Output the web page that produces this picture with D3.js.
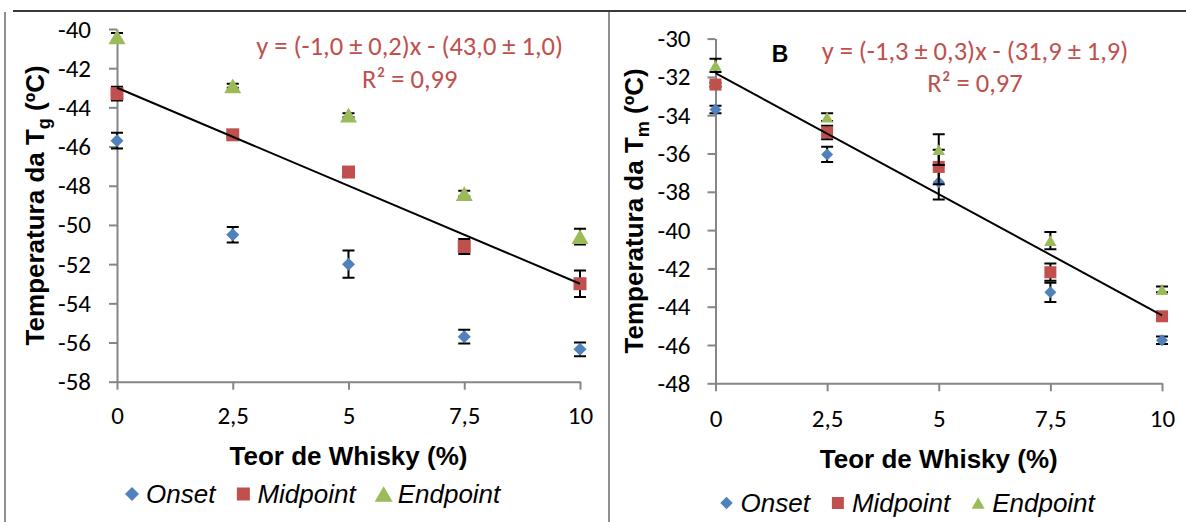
<!DOCTYPE html>
<html>
<head>
<meta charset="utf-8">
<script src="https://cdn.jsdelivr.net/npm/d3@7"></script>
<style>
body { margin: 0; background: #fff; }
svg { display: block; }
.tick text { font-family: Carlito, Lato, "Open Sans", sans-serif; font-size: 25px; fill: #000; }
.axis path, .axis line { stroke: #868686; stroke-width: 2; }
.title { font-family: "Liberation Sans", Arial, sans-serif; font-weight: bold; font-size: 26px; fill: #000; }
.eq { font-family: Carlito, Lato, "Open Sans", sans-serif; font-size: 26.5px; fill: #C0504D; }
.leg { font-family: "Liberation Sans", Arial, sans-serif; font-style: italic; font-size: 26px; fill: #000; }
</style>
</head>
<body>
<svg id="chart" width="1186" height="522"></svg>
<script>
// Shared x values (whisky content, %)
var xVals = [0, 2.5, 5, 7.5, 10];
var xTickLabels = ["0", "2,5", "5", "7,5", "10"];
var seriesNames = ["Onset", "Midpoint", "Endpoint"];

// Panel A - Tg
var tgYTicks = [-40, -42, -44, -46, -48, -50, -52, -54, -56, -58];
var tgYTickLabels = ["-40", "-42", "-44", "-46", "-48", "-50", "-52", "-54", "-56", "-58"];
var tgOnset = [-45.7, -50.5, -52.0, -55.7, -56.35];
var tgOnsetErr = [0.4, 0.4, 0.7, 0.35, 0.35];
var tgMid = [-43.3, -45.4, -47.3, -51.1, -53.0];
var tgMidErr = [0.35, 0.1, 0.1, 0.38, 0.68];
var tgEnd = [-40.4, -42.9, -44.4, -48.4, -50.6];
var tgEndErr = [0.2, 0.1, 0.1, 0.15, 0.4];
var tgFit = [-1.0, -43.0]; // slope, intercept
var tgEquation = ["y = (-1,0 ± 0,2)x - (43,0 ± 1,0)", "R² = 0,99"];

// Panel B - Tm
var tmYTicks = [-30, -32, -34, -36, -38, -40, -42, -44, -46, -48];
var tmYTickLabels = ["-30", "-32", "-34", "-36", "-38", "-40", "-42", "-44", "-46", "-48"];
var tmOnset = [-33.7, -36.05, -37.5, -43.25, -45.75];
var tmOnsetErr = [0.2, 0.4, 0.9, 0.5, 0.2];
var tmMid = [-32.4, -34.9, -36.7, -42.2, -44.5];
var tmMidErr = [0.1, 0.35, 0.9, 0.45, 0.1];
var tmEnd = [-31.4, -34.1, -35.8, -40.55, -43.1];
var tmEndErr = [0.35, 0.2, 0.8, 0.45, 0.15];
var tmFit = [-1.265, -31.8];
var tmEquation = ["y = (-1,3 ± 0,3)x - (31,9 ± 1,9)", "R² = 0,97"];

var colors = ["#4F81BD", "#C0504D", "#9BBB59"];
var shapes = ["diamond", "square", "triangle"];

var $svg = d3.select("#chart");

// frame lines
$svg.append("line").attr("x1", 13).attr("x2", 1186).attr("y1", 11).attr("y2", 11)
    .attr("stroke", "#3a3a3a").attr("stroke-width", 2);
$svg.append("line").attr("x1", 5).attr("x2", 5).attr("y1", 12).attr("y2", 522)
    .attr("stroke", "#6a6a6a").attr("stroke-width", 1.5);
$svg.append("line").attr("x1", 609).attr("x2", 609).attr("y1", 12).attr("y2", 522)
    .attr("stroke", "#6a6a6a").attr("stroke-width", 1.5);

var panels = [
    {
        x0: 117, x1: 580, yTop: 29, yBot: 381.7, yDomain: [-58, -40],
        yTicks: tgYTicks, yLabels: tgYTickLabels,
        series: [[tgOnset, tgOnsetErr], [tgMid, tgMidErr], [tgEnd, tgEndErr]],
        fit: tgFit, eq: tgEquation, eqX: 409.7, eqY: [55, 88.3],
        sub: "g", titleX: 44, xTitleY: 465, xPad: 17, yPad: 18,
        msize: [13, 13, 17], legX: 132, legY: 494, legSize: [14, 13, 18]
    },
    {
        x0: 715.5, x1: 1162, yTop: 38.6, yBot: 383.3, yDomain: [-48, -30],
        yTicks: tmYTicks, yLabels: tmYTickLabels,
        series: [[tmOnset, tmOnsetErr], [tmMid, tmMidErr], [tmEnd, tmEndErr]],
        fit: tmFit, eq: tmEquation, eqX: 975, eqY: [60, 91.7],
        sub: "m", titleX: 643, xTitleY: 468, xPad: 18, yPad: 17,
        msize: [12, 12, 12.5], legX: 726.5, legY: 503, legSize: [12.5, 12, 13],
        label: "B"
    }
];

function shapePath(shape, s) {
    var h = s / 2;
    if (shape == "diamond") return `M0,${-h}L${h},0L0,${h}L${-h},0Z`;
    if (shape == "square") return `M${-h},${-h}H${h}V${h}H${-h}Z`;
    var th = s * 0.87;
    return `M0,${-th / 2}L${h},${th / 2}L${-h},${th / 2}Z`;
}

panels.forEach(function (p) {
    var x = d3.scaleLinear().domain([0, 10]).range([p.x0, p.x1]);
    var y = d3.scaleLinear().domain(p.yDomain).range([p.yBot, p.yTop]);
    var $g = $svg.append("g");

    // axes
    $g.append("g").attr("class", "axis")
        .attr("transform", `translate(${p.x0},0)`)
        .call(d3.axisLeft(y).tickValues(p.yTicks).tickFormat((d, i) => p.yLabels[i])
            .tickSize(8).tickSizeOuter(0).tickPadding(p.yPad));
    $g.append("g").attr("class", "axis")
        .attr("transform", `translate(0,${p.yBot})`)
        .call(d3.axisBottom(x).tickValues(xVals).tickFormat((d, i) => xTickLabels[i])
            .tickSize(8).tickSizeOuter(0).tickPadding(p.xPad));

    // series: error bars then markers
    p.series.forEach(function (s, si) {
        var vals = s[0], errs = s[1];
        var $s = $g.append("g");
        xVals.forEach(function (xv, i) {
            var cx = x(xv), yl = y(vals[i] - errs[i]), yh = y(vals[i] + errs[i]);
            $s.append("path")
                .attr("d", `M${cx},${yl}V${yh}M${cx - 6},${yl}H${cx + 6}M${cx - 6},${yh}H${cx + 6}`)
                .attr("stroke", "#000").attr("stroke-width", 2).attr("fill", "none");
        });
        $s.selectAll(".mk").data(vals).enter().append("path")
            .attr("transform", (d, i) => `translate(${x(xVals[i])},${y(d)})`)
            .attr("d", shapePath(shapes[si], p.msize[si]))
            .attr("fill", colors[si]);
    });

    // trend line
    $g.append("line")
        .attr("x1", x(0)).attr("y1", y(p.fit[1]))
        .attr("x2", x(10)).attr("y2", y(p.fit[0] * 10 + p.fit[1]))
        .attr("stroke", "#000").attr("stroke-width", 2);

    // equation
    p.eq.forEach(function (t, i) {
        $g.append("text").attr("class", "eq").attr("x", p.eqX).attr("y", p.eqY[i])
            .attr("text-anchor", "middle").text(t);
    });

    if (p.label) {
        $g.append("text").attr("class", "title").attr("x", 771.7).attr("y", 61.7)
            .style("font-size", "23px").text(p.label);
    }

    // axis titles
    var yMid = (p.yTop + p.yBot) / 2;
    var $yt = $g.append("text").attr("class", "title")
        .attr("transform", `translate(${p.titleX},${yMid}) rotate(-90)`)
        .attr("text-anchor", "middle");
    $yt.append("tspan").text("Temperatura da T");
    $yt.append("tspan").attr("dy", 6).style("font-size", "18px").text(p.sub);
    $yt.append("tspan").attr("dy", -6).text(" (ºC)");

    $g.append("text").attr("class", "title")
        .attr("x", (p.x0 + p.x1) / 2).attr("y", p.xTitleY)
        .attr("text-anchor", "middle").text("Teor de Whisky (%)");

    // legend
    var lx = p.legX;
    seriesNames.forEach(function (name, si) {
        $g.append("path")
            .attr("transform", `translate(${lx},${p.legY})`)
            .attr("d", shapePath(shapes[si], p.legSize[si]))
            .attr("fill", colors[si]);
        var $t = $g.append("text").attr("class", "leg")
            .attr("x", lx + 14).attr("y", p.legY + 9).text(name);
        lx = lx + 14 + $t.node().getComputedTextLength() + 28;
    });
});
</script>
</body>
</html>
